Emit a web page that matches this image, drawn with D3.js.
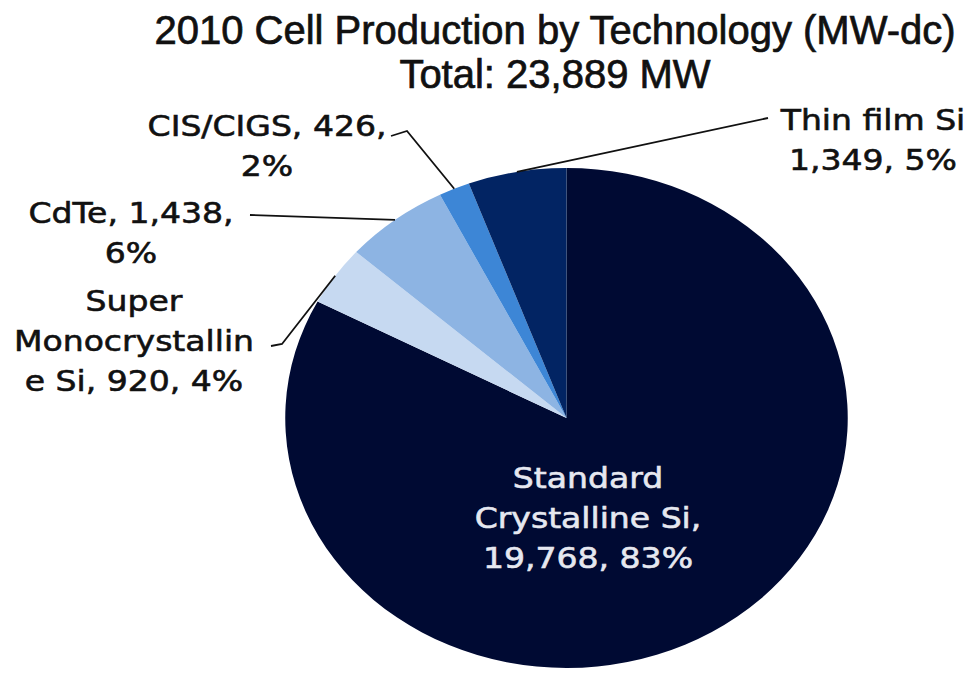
<!DOCTYPE html>
<html>
<head>
<meta charset="utf-8">
<script src="https://cdn.jsdelivr.net/npm/d3@7"></script>
<style>
  html, body { margin: 0; padding: 0; background: #fff; }
  svg { display: block; }
</style>
</head>
<body>
<div id="chart"></div>
<script>
// Data
const categories = ["Standard Crystalline Si", "Super Monocrystalline Si", "CdTe", "CIS/CIGS", "Thin film Si"];
const values = [19768, 920, 1438, 426, 1349];
const percents = [83, 4, 6, 2, 5];
const labelLines = [
  ["Standard", "Crystalline Si,", "19,768, 83%"],
  ["Super", "Monocrystallin", "e Si, 920, 4%"],
  ["CdTe, 1,438,", "6%"],
  ["CIS/CIGS, 426,", "2%"],
  ["Thin film Si", "1,349, 5%"]
];
const colors = ["#000a33", "#c6d9f1", "#8db4e3", "#3d86d6", "#022463"];
const title = "2010 Cell Production by Technology (MW-dc)";
const subtitle = "Total: 23,889 MW";

// Layout
const width = 971, height = 673;
const cx = 566.5, cy = 418, radius = 250, sx = 1.125;

// label placement: text centre, first baseline, text colour, leader points (label side)
const labelLayout = [
  {x: 588, y: 488, fill: "#e6e8f0", leader: null},
  {x: 134, y: 311, fill: "#111", leader: [[271, 346], [282, 344]]},
  {x: 131, y: 223, fill: "#111", leader: [[250, 215]]},
  {x: 267, y: 136, fill: "#111", leader: [[391, 136], [407, 131]]},
  {x: 873, y: 130, fill: "#111", leader: [[768, 118]]}
];

const svg = d3.select("#chart")
  .append("svg")
  .attr("width", width)
  .attr("height", height);

// Titles
[title, subtitle].forEach((s, i) => {
  svg.append("text")
    .attr("x", 555)
    .attr("y", 44 + i * 44)
    .attr("text-anchor", "middle")
    .attr("font-family", "Liberation Sans, Arial, sans-serif")
    .attr("font-size", 40)
    .attr("fill", "#111")
    .attr("stroke", "#111")
    .attr("stroke-width", 0.7)
    .text(s);
});

// Pie
const pie = d3.pie().sort(null).value(d => d)(values);
const arc = d3.arc().innerRadius(0).outerRadius(radius);

const g = svg.append("g")
  .attr("transform", `translate(${cx},${cy}) scale(${sx},1)`);

g.selectAll("path")
  .data(pie)
  .enter().append("path")
  .attr("d", arc)
  .attr("fill", (d, i) => colors[i]);

// Leader lines from slice edge to label
const edgePoint = d => {
  const a = (d.startAngle + d.endAngle) / 2;
  return [cx + sx * radius * Math.sin(a), cy - radius * Math.cos(a)];
};

pie.forEach((d, i) => {
  const lay = labelLayout[i];
  if (!lay.leader) return;
  const pts = lay.leader.concat([edgePoint(d)]);
  svg.append("path")
    .attr("d", d3.line()(pts))
    .attr("fill", "none")
    .attr("stroke", "#111")
    .attr("stroke-width", 1.8);
});

// Labels
labelLines.forEach((lines, i) => {
  const lay = labelLayout[i];
  const t = svg.append("g")
    .attr("transform", `translate(${lay.x},${lay.y}) scale(1.14,1)`)
    .append("text")
    .attr("text-anchor", "middle")
    .attr("font-family", "DejaVu Sans, Verdana, sans-serif")
    .attr("font-size", 29)
    .attr("fill", lay.fill)
    .attr("stroke", lay.fill)
    .attr("stroke-width", 0.6);
  lines.forEach((s, j) => {
    t.append("tspan")
      .attr("x", 0)
      .attr("y", j * 40)
      .text(s);
  });
});
</script>
</body>
</html>
